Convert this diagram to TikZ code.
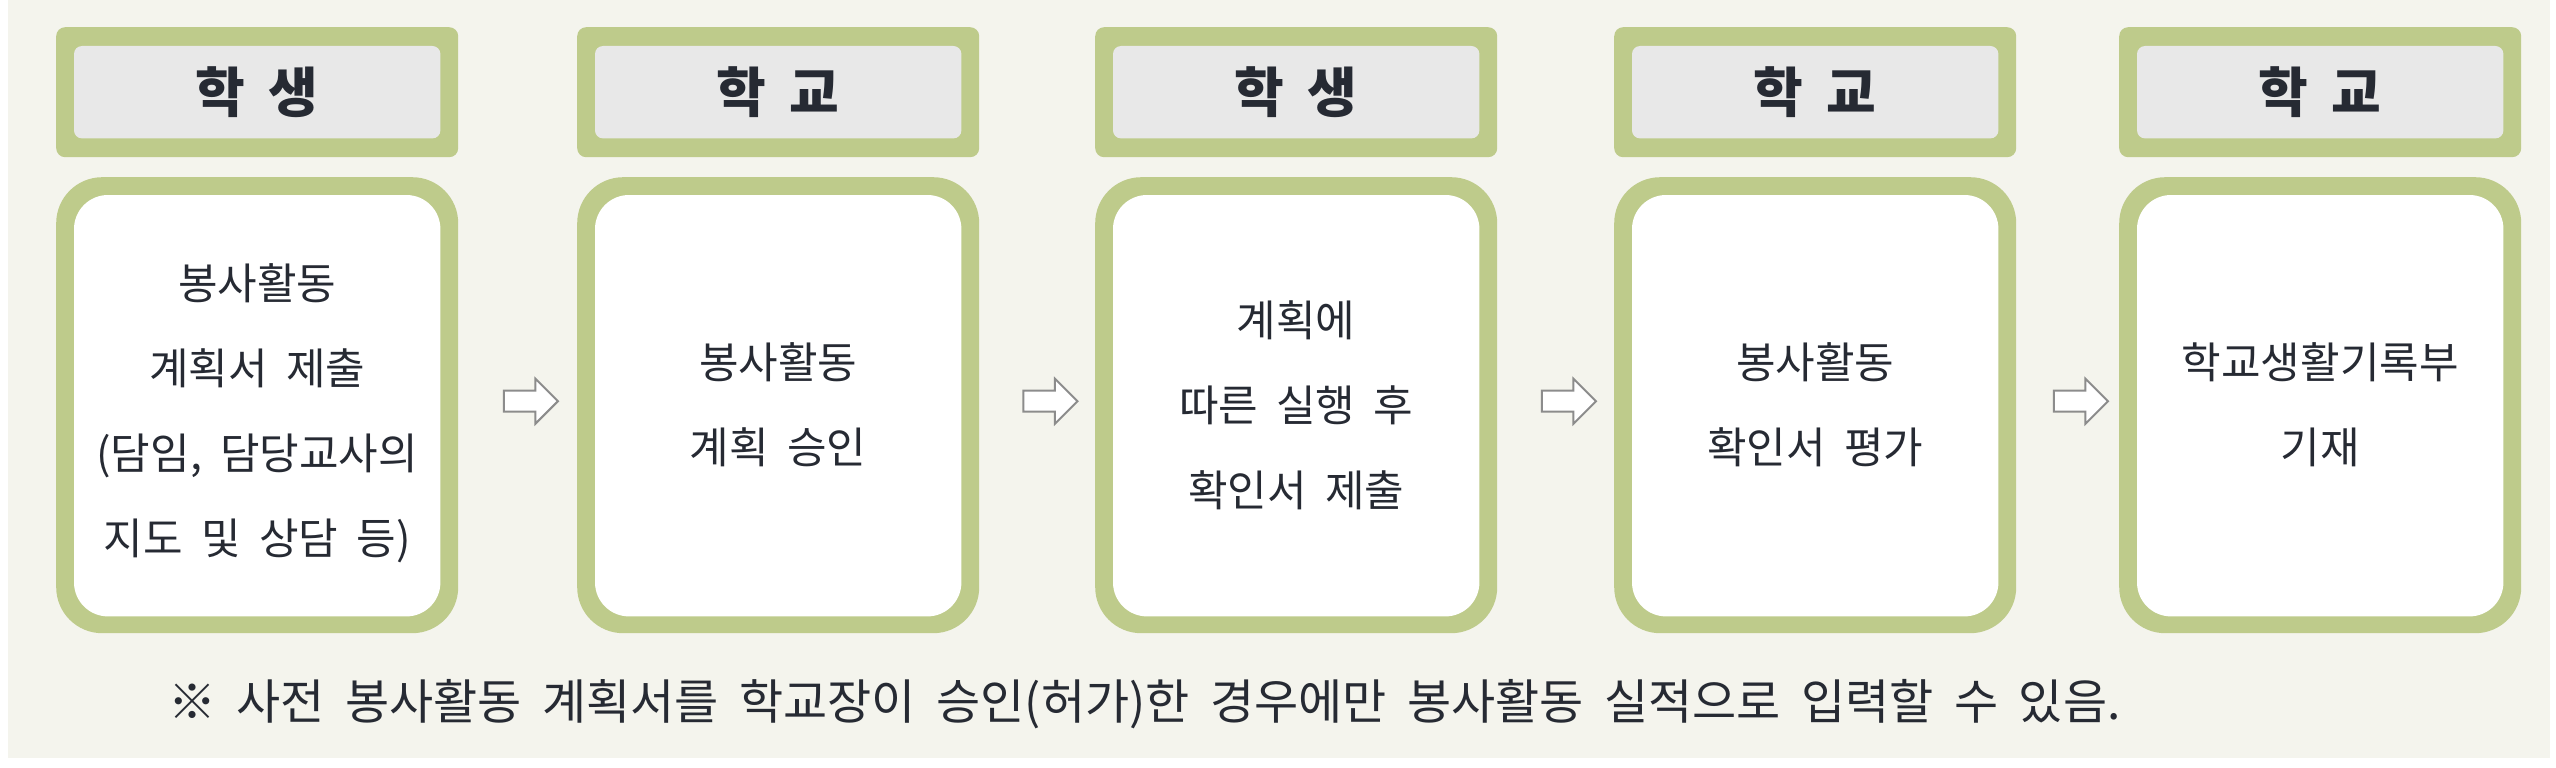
\documentclass[tikz,border=0pt]{standalone}
\usepackage{fontspec}
\setmainfont{Noto Sans CJK KR}
\newfontfamily\krn[WordSpace=2.4]{Noto Sans CJK KR}
\newfontfamily\krh[WordSpace=1.9]{Noto Sans CJK KR}
\usetikzlibrary{shapes.arrows,calc}
\definecolor{bg}{HTML}{F4F4ED}
\definecolor{grn}{HTML}{BECB8B}
\definecolor{hdr}{HTML}{E8E8E8}
\definecolor{ink}{HTML}{262A33}
\definecolor{arr}{HTML}{8C8C8C}
\begin{document}
\begin{tikzpicture}[x=1pt,y=-1pt,
  hdrbox/.style={fill=grn, rounded corners=9pt, minimum width=402pt, minimum height=130pt, inner sep=0pt, anchor=north west},
  mainbox/.style={fill=grn, rounded corners=46pt, minimum width=402pt, minimum height=456pt, inner sep=0pt, anchor=north west},
  hdrin/.style={fill=hdr, rounded corners=8pt},
  mainin/.style={fill=white, rounded corners=34pt},
  hdrtext/.style={font=\krh\fontsize{54}{60}\selectfont\bfseries, text=ink, inner sep=0pt},
  bodytext/.style={font=\krn\fontsize{43}{85}\selectfont, text=ink, align=center, inner sep=0pt},
  notetext/.style={font=\krn\fontsize{48}{56}\selectfont, text=ink, inner sep=0pt, anchor=west},
  flowarrow/.style={single arrow, draw=arr, line width=2pt, fill=white, minimum height=54pt, minimum width=43pt, inner sep=9.5pt, single arrow head extend=12pt}
]
\useasboundingbox (0,0) rectangle (2556,768);
\fill[white] (0,0) rectangle (2556,768);
\fill[bg] (8,0) rectangle (2550,758);
% boxes
\foreach \i/\x/\h in {1/56/학 생,2/577/학 교,3/1095/학 생,4/1614/학 교,5/2119/학 교}{
  \node[hdrbox] (h\i) at (\x,27) {};
  \fill[hdrin] ([xshift=18pt,yshift=-19pt]h\i.north west) rectangle ([xshift=-18pt,yshift=19pt]h\i.south east);
  \node[hdrtext] (ht\i) at (h\i.center) {\h};
  \node[mainbox] (m\i) at (\x,177) {};
  \fill[mainin] ([xshift=18pt,yshift=-18pt]m\i.north west) rectangle ([xshift=-18pt,yshift=17pt]m\i.south east);
}
\node[bodytext] (t1) at ([yshift=-8pt]m1.center) {봉사활동\\계획서 제출\\(담임, 담당교사의\\지도 및 상담 등)};
\node[bodytext] (t2) at (m2.center) {봉사활동\\계획 승인};
\node[bodytext] (t3) at (m3.center) {계획에\\따른 실행 후\\확인서 제출};
\node[bodytext] (t4) at (m4.center) {봉사활동\\확인서 평가};
\node[bodytext] (t5) at (m5.center) {학교생활기록부\\기재};
% arrows
\foreach \a/\b in {1/2,2/3,3/4,4/5}{
  \node[flowarrow] (a\a) at ($(m\a.east)!0.5!(m\b.west)+(8,-4)$) {};
}
\node[notetext] (note) at (168,704) {※ 사전 봉사활동 계획서를 학교장이 승인(허가)한 경우에만 봉사활동 실적으로 입력할 수 있음.};
\end{tikzpicture}
\end{document}
